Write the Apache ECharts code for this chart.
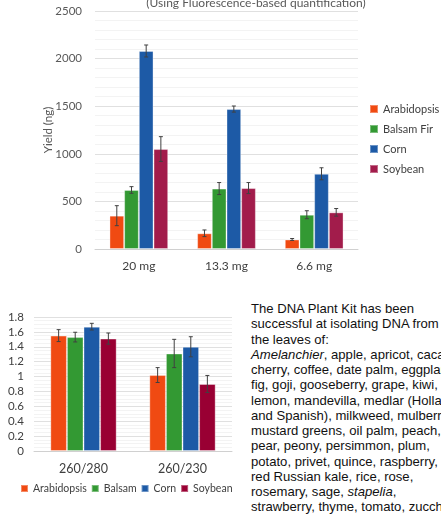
<!DOCTYPE html>
<html>
<head>
<meta charset="utf-8">
<script src="https://cdn.jsdelivr.net/npm/echarts@6/dist/echarts.min.js"></script>
<style>
  html, body { margin: 0; padding: 0; background: #fff; overflow: hidden; }
  #page { position: relative; width: 441px; height: 518px; overflow: hidden; }
  #yieldChart { position: absolute; left: 0; top: 0; width: 441px; height: 285px; }
  #ratioChart { position: absolute; left: 0; top: 285px; width: 250px; height: 233px; }
  #kitText {
    position: absolute; left: 251px; top: 301px; width: 300px;
    font-family: "Liberation Sans", Arial, sans-serif; font-size: 13.1px;
    line-height: 15.25px; color: #111; white-space: nowrap;
  }
</style>
</head>
<body>
<div id="page">
  <div id="yieldChart"></div>
  <div id="ratioChart"></div>
  <div id="kitText"></div>
</div>
<script>
// yield chart (top)
const yieldCats = ['20 mg', '13.3 mg', '6.6 mg'];
const yieldArabidopsis = [350, 165, 100];
const yieldBalsamFir = [620, 635, 360];
const yieldCorn = [2080, 1470, 790];
const yieldSoybean = [1050, 640, 385];
const yieldErrArabidopsis = [105, 35, 10];
const yieldErrBalsamFir = [35, 63, 42];
const yieldErrCorn = [63, 32, 63];
const yieldErrSoybean = [130, 58, 40];

// purity ratio chart (bottom)
const ratioCats = ['260/280', '260/230'];
const ratioArabidopsis = [1.55, 1.02];
const ratioBalsam = [1.53, 1.31];
const ratioCorn = [1.67, 1.40];
const ratioSoybean = [1.51, 0.90];
const ratioErrArabidopsis = [0.08, 0.10];
const ratioErrBalsam = [0.065, 0.19];
const ratioErrCorn = [0.045, 0.135];
const ratioErrSoybean = [0.075, 0.115];

const kitLines = [
    'The DNA Plant Kit has been',
    'successful at isolating DNA from',
    'the leaves of:',
    '<i>Amelanchier</i>, apple, apricot, cacao,',
    'cherry, coffee, date palm, eggplant,',
    'fig, goji, gooseberry, grape, kiwi,',
    'lemon, mandevilla, medlar (Holland',
    'and Spanish), milkweed, mulberry,',
    'mustard greens, oil palm, peach,',
    'pear, peony, persimmon, plum,',
    'potato, privet, quince, raspberry,',
    'red Russian kale, rice, rose,',
    'rosemary, sage, <i>stapelia</i>,',
    'strawberry, thyme, tomato, zucchini'
];
document.getElementById('kitText').innerHTML = kitLines.join('<br>');

const FONT = 'Lato';
const colors = ['#F04A12', '#339933', '#1D5AA6'];

// error bar drawn on the k-th bar of a 4-bar group
function errorBar(k) {
    return function (params, api) {
        const cat = api.value(0);
        const lo = api.coord([cat, api.value(1)]);
        const hi = api.coord([cat, api.value(2)]);
        const bw = api.size([1, 0])[0] * 0.67 / 4;
        const x = lo[0] + (k - 1.5) * bw;
        const style = {stroke: '#404040', lineWidth: 1};
        return {
            type: 'group',
            children: [
                {type: 'line', shape: {x1: x, y1: lo[1], x2: x, y2: hi[1]}, style},
                {type: 'line', shape: {x1: x - 2, y1: lo[1], x2: x + 2, y2: lo[1]}, style},
                {type: 'line', shape: {x1: x - 2, y1: hi[1], x2: x + 2, y2: hi[1]}, style}
            ]
        };
    };
}

function barSeries(name, data, color) {
    return {
        name: name,
        type: 'bar',
        data: data,
        barGap: '0%',
        barCategoryGap: '33%',
        itemStyle: {color: color, borderColor: 'rgba(255,255,255,0.35)', borderWidth: 1},
        silent: true
    };
}

function errSeries(values, errs, k) {
    return {
        type: 'custom',
        renderItem: errorBar(k),
        data: values.map((v, i) => [i, v - errs[i], v + errs[i]]),
        z: 5,
        silent: true
    };
}

const yieldChart = echarts.init(document.getElementById('yieldChart'), null, {renderer: 'canvas'});
yieldChart.setOption({
    animation: false,
    textStyle: {fontFamily: FONT},
    graphic: [{
        type: 'text',
        style: {
            text: '(Using Fluorescence-based quantification)',
            x: 256, y: 3, align: 'center', verticalAlign: 'middle',
            fill: '#595959', font: '12px ' + FONT
        }
    }],
    legend: {
        orient: 'vertical',
        left: 369,
        top: 103,
        padding: 0,
        itemWidth: 8,
        itemHeight: 8,
        itemGap: 8,
        icon: 'rect',
        textStyle: {fontSize: 11, lineHeight: 12, color: '#404040', fontFamily: FONT},
        data: ['Arabidopsis', 'Balsam Fir', 'Corn', 'Soybean']
    },
    grid: {left: 95, right: 83, top: 11, bottom: 36},
    xAxis: {
        type: 'category',
        data: yieldCats,
        axisLine: {lineStyle: {color: '#d0d0d0'}},
        axisTick: {show: false},
        axisLabel: {fontSize: 12, color: '#404040', margin: 11}
    },
    yAxis: {
        type: 'value',
        min: 0,
        max: 2500,
        interval: 500,
        name: 'Yield (ng)',
        nameLocation: 'middle',
        nameGap: 41,
        nameMoveOverlap: false,
        nameTextStyle: {fontSize: 11.5, color: '#595959'},
        axisLabel: {fontSize: 11.5, color: '#595959', margin: 13, formatter: v => String(v)},
        splitLine: {lineStyle: {color: '#e0e0e0'}},
        minorTick: {show: false, splitNumber: 5},
        minorSplitLine: {show: true, lineStyle: {color: '#f3f3f3'}}
    },
    series: [
        barSeries('Arabidopsis', yieldArabidopsis, colors[0]),
        barSeries('Balsam Fir', yieldBalsamFir, colors[1]),
        barSeries('Corn', yieldCorn, colors[2]),
        barSeries('Soybean', yieldSoybean, '#A21C4B'),
        errSeries(yieldArabidopsis, yieldErrArabidopsis, 0),
        errSeries(yieldBalsamFir, yieldErrBalsamFir, 1),
        errSeries(yieldCorn, yieldErrCorn, 2),
        errSeries(yieldSoybean, yieldErrSoybean, 3)
    ]
});

const ratioChart = echarts.init(document.getElementById('ratioChart'), null, {renderer: 'canvas'});
ratioChart.setOption({
    animation: false,
    textStyle: {fontFamily: FONT},
    legend: {
        left: 20,
        top: 198,
        width: 240,
        padding: 0,
        itemWidth: 7,
        itemHeight: 7,
        itemGap: 4,
        icon: 'rect',
        textStyle: {fontSize: 10.5, color: '#404040', fontFamily: FONT},
        data: ['Arabidopsis', 'Balsam', 'Corn', 'Soybean']
    },
    grid: {left: 34, right: 18, top: 32, bottom: 67},
    xAxis: {
        type: 'category',
        data: ratioCats,
        axisLine: {lineStyle: {color: '#d0d0d0'}},
        axisTick: {show: false},
        axisLabel: {fontSize: 12.5, color: '#404040', margin: 11}
    },
    yAxis: {
        type: 'value',
        min: 0,
        max: 1.8,
        interval: 0.2,
        axisLabel: {fontSize: 11.5, color: '#404040', margin: 10},
        splitLine: {lineStyle: {color: '#e0e0e0'}},
        minorTick: {show: false, splitNumber: 4},
        minorSplitLine: {show: true, lineStyle: {color: '#f3f3f3'}}
    },
    series: [
        barSeries('Arabidopsis', ratioArabidopsis, colors[0]),
        barSeries('Balsam', ratioBalsam, colors[1]),
        barSeries('Corn', ratioCorn, colors[2]),
        barSeries('Soybean', ratioSoybean, '#990033'),
        errSeries(ratioArabidopsis, ratioErrArabidopsis, 0),
        errSeries(ratioBalsam, ratioErrBalsam, 1),
        errSeries(ratioCorn, ratioErrCorn, 2),
        errSeries(ratioSoybean, ratioErrSoybean, 3)
    ]
});
</script>
</body>
</html>
